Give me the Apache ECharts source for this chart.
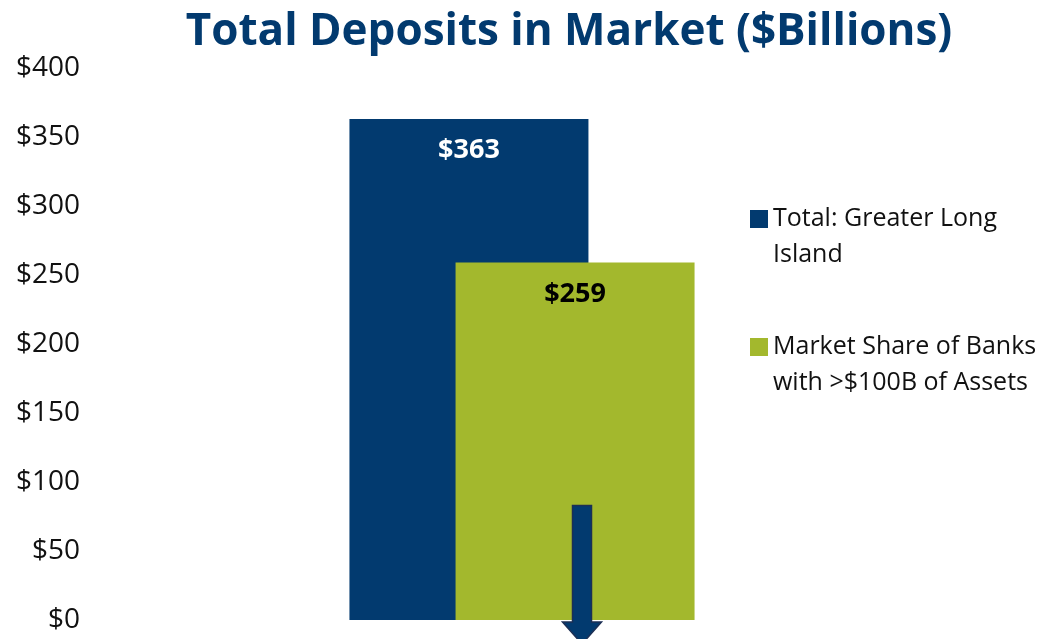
<!DOCTYPE html>
<html>
<head>
<meta charset="UTF-8">
<title>index.html</title>
<style type="text/css">
html, body { margin: 0; padding: 0; background: #fff; }
#main { width: 1047px; height: 639px; }
</style>
</head>
<body>
  <div id="main"></div>
<script src="https://cdn.jsdelivr.net/npm/echarts@6/dist/echarts.min.js"></script>
<script>
  var categories = [ 'Deposits' ];
  var totalLI = [ 363 ];
  var bigBanks = [ 259 ];
  var arrowValue = [ 83 ];
  var yTicks = { min: 0, max: 400, interval: 50 };
  // leading blank line keeps the square level with the first text line
  var legendLabels = {
    'Total: Greater Long Island': '\nTotal: Greater Long\nIsland',
    'Market Share of Banks with >$100B of Assets': '\nMarket Share of Banks\nwith >$100B of Assets'
  };

  var blue = '#023a6f';
  var green = '#a3b82d';
  var font = 'Open Sans';

  var myChart = echarts.init(document.getElementById('main'));
  var option = {
    animation : false,
    title : {
      text : 'Total Deposits in Market ($Billions)',
      left : 564,
      top : 5,
      textAlign : 'center',
      textStyle : { color : blue, fontFamily : font, fontWeight : 'bold', fontSize : 44 }
    },
    legend : {
      orient : 'vertical',
      left : 750,
      top : 165,
      padding : 0,
      itemWidth : 18,
      itemHeight : 18,
      itemGap : 20,
      icon : 'rect',
      data : [ 'Total: Greater Long Island', 'Market Share of Banks with >$100B of Assets' ],
      formatter : function(name) { return legendLabels[name]; },
      textStyle : { fontFamily : font, fontSize : 25, color : '#111', lineHeight : 36 }
    },
    grid : { left : 90, right : 93, top : 68, bottom : 19 },
    xAxis : {
      type : 'category',
      data : categories,
      show : false
    },
    yAxis : {
      type : 'value',
      min : yTicks.min,
      max : yTicks.max,
      interval : yTicks.interval,
      splitLine : { show : false },
      axisLine : { show : false },
      axisTick : { show : false },
      axisLabel : {
        margin : 10,
        fontFamily : font,
        fontSize : 28,
        color : '#111',
        padding : [ 3, 0, 0, 0 ],
        formatter : function(v) { return '$' + v; }
      }
    },
    series : [ {
      name : 'Total: Greater Long Island',
      type : 'bar',
      data : totalLI,
      barWidth : 239,
      barGap : '-55.6%',
      itemStyle : { color : blue },
      label : {
        show : true, position : 'insideTop', distance : 18,
        color : '#fff', fontFamily : font, fontWeight : 'bold', fontSize : 27,
        formatter : function(p) { return '$' + p.value; }
      }
    }, {
      name : 'Market Share of Banks with >$100B of Assets',
      type : 'bar',
      data : bigBanks,
      barWidth : 239,
      itemStyle : { color : green },
      label : {
        show : true, position : 'insideTop', distance : 18,
        color : '#000', fontFamily : font, fontWeight : 'bold', fontSize : 27,
        formatter : function(p) { return '$' + p.value; }
      }
    }, {
      // down arrow drawn over the green bar
      type : 'custom',
      clip : false,
      silent : true,
      z : 5,
      data : arrowValue.map(function(v, i) { return [ i, v ]; }),
      renderItem : function(params, api) {
        var top = api.coord([ api.value(0), api.value(1) ]);
        var base = api.coord([ api.value(0), 0 ]);
        var cx = top[0] + 60;
        var sw = 9.5, hw = 19.5;
        return {
          type : 'polygon',
          shape : { points : [
            [ cx - sw, top[1] ], [ cx + sw, top[1] ], [ cx + sw, base[1] + 2 ],
            [ cx + hw, base[1] + 2 ], [ cx, base[1] + 24 ], [ cx - hw, base[1] + 2 ],
            [ cx - sw, base[1] + 2 ]
          ] },
          style : { fill : blue, stroke : '#1c2f55', lineWidth : 1.5 }
        };
      }
    } ]
  };
  myChart.setOption(option);
</script>
</body>
</html>
